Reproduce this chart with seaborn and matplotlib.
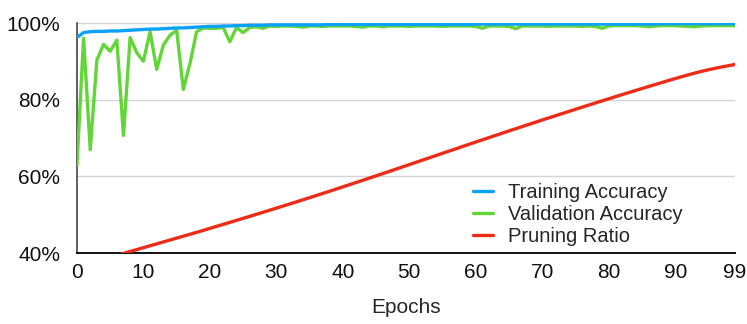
import numpy as np
import pandas as pd
import matplotlib
matplotlib.use('Agg')
import matplotlib.pyplot as plt
import seaborn as sns

# Values (percent, one per epoch 0..99)
epochs = list(range(100))

training_acc = [
    96.3, 97.6, 97.8, 97.9, 97.9, 98.0, 98.0, 98.1, 98.2, 98.3,
    98.4, 98.5, 98.5, 98.6, 98.7, 98.8, 98.8, 98.9, 99.0, 99.1,
    99.2, 99.2, 99.3, 99.3, 99.4, 99.4, 99.5, 99.5, 99.5, 99.6,
    99.6, 99.6, 99.6, 99.6, 99.6, 99.6, 99.6, 99.6, 99.7, 99.7,
    99.7, 99.7, 99.7, 99.7, 99.7, 99.7, 99.7, 99.7, 99.7, 99.7,
    99.7, 99.7, 99.7, 99.7, 99.7, 99.7, 99.7, 99.7, 99.7, 99.7,
    99.8, 99.8, 99.8, 99.8, 99.8, 99.8, 99.8, 99.8, 99.8, 99.8,
    99.8, 99.8, 99.8, 99.8, 99.8, 99.8, 99.8, 99.8, 99.8, 99.8,
    99.8, 99.8, 99.8, 99.8, 99.8, 99.8, 99.8, 99.8, 99.9, 99.9,
    99.9, 99.9, 99.9, 99.9, 99.9, 99.9, 99.9, 99.9, 99.9, 99.9,
]

validation_acc = [
    62.9, 96.1, 67.0, 90.4, 94.5, 92.7, 95.6, 70.7, 96.3, 92.3,
    90.1, 97.8, 88.0, 94.3, 96.9, 98.2, 82.7, 89.5, 97.8, 98.8,
    98.7, 98.7, 98.9, 95.2, 98.9, 97.6, 98.9, 99.1, 98.7, 99.3,
    99.2, 99.3, 99.3, 99.2, 99.0, 99.3, 99.3, 99.2, 99.3, 99.3,
    99.3, 99.3, 99.2, 99.0, 99.3, 99.3, 99.1, 99.3, 99.3, 99.3,
    99.2, 99.3, 99.3, 99.3, 99.3, 99.2, 99.3, 99.3, 99.3, 99.3,
    99.2, 98.7, 99.3, 99.3, 99.3, 99.2, 98.6, 99.3, 99.3, 99.3,
    99.3, 99.2, 99.3, 99.3, 99.3, 99.3, 99.2, 99.3, 99.2, 98.7,
    99.3, 99.4, 99.4, 99.4, 99.4, 99.3, 99.1, 99.3, 99.4, 99.4,
    99.4, 99.3, 99.2, 99.1, 99.3, 99.4, 99.4, 99.4, 99.4, 99.4,
]

pruning_ratio = [
    36.4, 36.9, 37.4, 37.9, 38.4, 38.9, 39.4, 39.9, 40.4, 40.9,
    41.4, 41.9, 42.4, 42.9, 43.4, 43.9, 44.4, 44.9, 45.4, 45.9,
    46.45, 46.97, 47.49, 48.01, 48.54, 49.06, 49.59, 50.12, 50.65, 51.19,
    51.73, 52.27, 52.81, 53.36, 53.91, 54.46, 55.02, 55.58, 56.14, 56.71,
    57.28, 57.85, 58.42, 59.0, 59.58, 60.16, 60.74, 61.33, 61.92, 62.51,
    63.1, 63.69, 64.28, 64.87, 65.46, 66.05, 66.64, 67.23, 67.82, 68.41,
    69.0, 69.58, 70.16, 70.74, 71.32, 71.9, 72.47, 73.04, 73.61, 74.18,
    74.75, 75.31, 75.87, 76.43, 76.99, 77.55, 78.1, 78.65, 79.2, 79.75,
    80.29, 80.83, 81.37, 81.91, 82.44, 82.97, 83.5, 84.02, 84.54, 85.06,
    85.57, 86.07, 86.56, 87.03, 87.47, 87.88, 88.25, 88.6, 88.93, 89.25,
]

x_ticks = [0, 10, 20, 30, 40, 50, 60, 70, 80, 90, 99]
y_ticks = [40, 60, 80, 100]

blue = '#0aa2f7'
green = '#62d637'
red = '#ee2b17'

sns.set_style('white')
plt.rcParams['font.family'] = ['Liberation Sans', 'DejaVu Sans']

fig = plt.figure(figsize=(7.47, 3.24), dpi=100)
ax = fig.add_axes([0.103, 0.219, 0.881, 0.709])

lw = 2.4
sns.lineplot(x=epochs, y=validation_acc, ax=ax, color=green, linewidth=lw,
             label='Validation Accuracy', zorder=3)
sns.lineplot(x=epochs, y=training_acc, ax=ax, color=blue, linewidth=lw,
             label='Training Accuracy', zorder=4)
sns.lineplot(x=epochs, y=pruning_ratio, ax=ax, color=red, linewidth=lw,
             label='Pruning Ratio', zorder=5)

ax.set_xlim(0, 99)
ax.set_ylim(40, 100)
ax.set_xticks(x_ticks)
ax.set_yticks(y_ticks)
ax.set_yticklabels([f'{v}%' for v in y_ticks])
ax.tick_params(axis='both', length=0, labelsize=15, colors='#111111')
ax.tick_params(axis='y', pad=12)
ax.tick_params(axis='x', pad=7)

ax.grid(axis='y', color='#d4d4d4', linewidth=1.0)
ax.grid(axis='x', visible=False)
for s in ['top', 'right']:
    ax.spines[s].set_visible(False)
ax.spines['left'].set_color('#444444')
ax.spines['left'].set_linewidth(1.2)
ax.spines['bottom'].set_color('#111111')
ax.spines['bottom'].set_linewidth(1.4)

ax.set_xlabel('Epochs', fontsize=15, labelpad=12)
ax.set_ylabel('')

handles, labels = ax.get_legend_handles_labels()
order = [1, 0, 2]
ax.legend([handles[i] for i in order], [labels[i] for i in order],
          loc='lower left', bbox_to_anchor=(0.574, -0.05), frameon=False,
          fontsize=14.5, handlelength=1.0, handletextpad=0.75,
          labelspacing=0.15)

fig.savefig('out.png', dpi=100)
